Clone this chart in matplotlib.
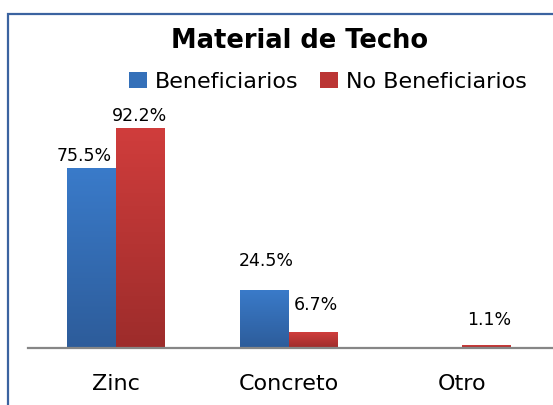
import numpy as np
import matplotlib
matplotlib.use("Agg")
from matplotlib import pyplot as plt
from matplotlib.patches import Rectangle, Patch
from matplotlib.colors import LinearSegmentedColormap

categories = ["Zinc", "Concreto", "Otro"]
beneficiarios = [75.5, 24.5, 0.0]
no_beneficiarios = [92.2, 6.7, 1.1]
series_names = ["Beneficiarios", "No Beneficiarios"]

# label nudges in pixels (dx, dy above bar top), hand placed like the original
label_nudge_b = [(-7, 3), (2, 20), (0, 0)]
label_nudge_nb = [(-1, 3), (2, 18), (3, 16)]

BLUE_TOP, BLUE_BOT = "#3a7bca", "#2d5c9a"
RED_TOP, RED_BOT = "#d03d3c", "#9d2c2b"
FRAME = "#3b63a0"

W, H = 553, 405
fig = plt.figure(figsize=(W / 100, H / 100), dpi=100)
fig.patch.set_facecolor("white")

# chart frame (runs off the right and bottom edge in the original)
fig.patches.append(Rectangle((8 / W, -0.1), 1.2, (H - 14) / H + 0.1,
                             transform=fig.transFigure, fill=False,
                             edgecolor=FRAME, linewidth=1.6))

ax = fig.add_axes([28 / W, (H - 348) / H, (W - 28) / W, 238.6 / H])
x = np.arange(len(categories))
bw = 0.283

bars_b = ax.bar(x - bw / 2, beneficiarios, bw, color=BLUE_BOT, linewidth=0, zorder=2)
bars_nb = ax.bar(x + bw / 2, no_beneficiarios, bw, color=RED_BOT, linewidth=0, zorder=2)


def shade(bars, top, bot):
    cmap = LinearSegmentedColormap.from_list("g", [bot, top])
    grad = np.linspace(0, 1, 256).reshape(-1, 1)
    for b in bars:
        if b.get_height() <= 0:
            continue
        x0, y0 = b.get_x(), b.get_y()
        im = ax.imshow(grad, cmap=cmap, origin="lower", aspect="auto",
                       extent=(x0, x0 + b.get_width(), y0, y0 + b.get_height()),
                       zorder=3)
        im.set_clip_path(b)


shade(bars_b, BLUE_TOP, BLUE_BOT)
shade(bars_nb, RED_TOP, RED_BOT)
ax.set_xlim(-0.509, 2.526)
ax.set_ylim(0, 100)


def put_labels(bars, vals, nudges):
    for b, v, (dx, dy) in zip(bars, vals, nudges):
        if v <= 0:
            continue
        ax.annotate(f"{v:.1f}%", (b.get_x() + b.get_width() / 2, b.get_height()),
                    xytext=(dx, dy), textcoords="offset pixels",
                    ha="center", va="bottom", fontsize=12.5, color="black",
                    zorder=5)


put_labels(bars_b, beneficiarios, label_nudge_b)
put_labels(bars_nb, no_beneficiarios, label_nudge_nb)

for s in ["top", "left", "right"]:
    ax.spines[s].set_visible(False)
ax.spines["bottom"].set_color("#868686")
ax.spines["bottom"].set_linewidth(1.6)
ax.spines["bottom"].set_zorder(4)
ax.set_yticks([])
ax.set_xticks(x)
ax.set_xticklabels(categories, fontsize=16)
ax.tick_params(axis="x", length=0, pad=19)
ax.set_facecolor("none")

fig.text(300 / W, 1 - 41 / H, "Material de Techo", ha="center", va="center",
         fontsize=18.5, fontweight="bold")

handles = [Patch(facecolor="#3470b9", edgecolor="none"),
           Patch(facecolor="#bb3534", edgecolor="none")]
fig.legend(handles, series_names, loc="center", bbox_to_anchor=(328 / W, 1 - 82 / H),
           ncol=2, frameon=False, fontsize=16, handlelength=0.8, handleheight=0.75,
           handletextpad=0.35, columnspacing=1.0, borderpad=0, borderaxespad=0)

fig.savefig("out.png", dpi=100)
